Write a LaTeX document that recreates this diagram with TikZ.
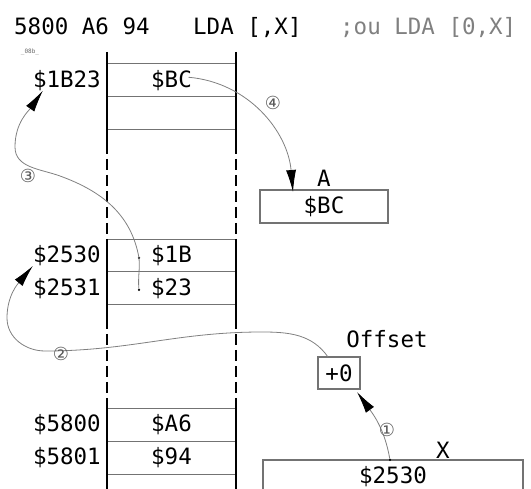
\documentclass[tikz,border=0pt]{standalone}
\usepackage{fontspec}
\setmainfont{DejaVu Sans Mono}
\newfontfamily\numfont{DejaVu Sans}
\usetikzlibrary{positioning,arrows.meta,calc}
\tikzset{
cell/.style={
draw=black!55,
line width=1.2pt,
minimum width=129pt,
minimum height=32.75pt,
inner sep=0pt,
outer sep=0pt,
font=\fontsize{22.5}{24}\selectfont
},
addr/.style={
inner sep=0pt,
font=\fontsize{22.5}{24}\selectfont
},
reg/.style={
draw=black!55,
line width=1.2pt,
minimum height=33pt,
inner sep=0pt,
outer sep=0pt,
font=\fontsize{22.5}{24}\selectfont
},
col/.style={
line width=1.6pt
},
ptr/.style={
draw=black!50,
line width=0.8pt,
-{Latex[length=22pt,width=10pt,color=black]}
},
num/.style={
inner sep=0pt,
text=black!65,
font=\numfont\fontsize{18}{18}\selectfont
},
dot/.style={
circle,
fill=black,
inner sep=0pt,
minimum size=2.5pt
}
}

\begin{document}
\begin{tikzpicture}[x=1pt,y=1pt,node distance=0pt]
\useasboundingbox (0,0) rectangle (531,489);

\node[addr,anchor=base west](h1) at (14,454){5800 A6 94};
\node[addr,anchor=base west](h2) at (193,454){LDA [,X]};
\node[addr,anchor=base west,text=black!50](h3) at (340,454){;ou LDA [0,X]};
\node[inner sep=0pt,text=black!60,font=\fontsize{6}{6}\selectfont](tag) at (30,437){\_08b\_};

\node[cell](c1) at (171.5,408.75){\$BC};
\node[cell,below=of c1](c2){};
\node[cell](c3) at (171.5,233.5){\$1B};
\node[cell,below=of c3](c4){\$23};
\node[cell](c5) at (171.5,64){\$A6};
\node[cell,below=of c5](c6){\$94};

\foreach \c/\t in {c1/1B23,c3/2530,c4/2531,c5/5800,c6/5801}
\node[addr,left=6pt of \c](a\c){\$\t};

\foreach \x in {107,236}{
\draw[col](\x,437)--(\x,346);
\draw[col,dash pattern=on 11pt off 5pt](\x,346)--(\x,250);
\draw[col](\x,250)--(\x,171);
\draw[col,dash pattern=on 11pt off 5pt](\x,171)--(\x,91);
\draw[col](\x,91)--(\x,0);
}

\node[reg,minimum width=128pt,label={[addr,label distance=3pt]above:A}](ra) at (324,282.5){\$BC};
\node[reg,minimum width=42pt,minimum height=32pt](off) at (339,116){+0};
\node[addr](offl) at (387,150){Offset};
\node[reg,minimum width=260pt](rx) at (393,12.5){\$2530};
\node[addr](xl) at (443,39){X};

\node[dot](d3) at (139,231){};
\node[dot](d4) at (139,199){};
\node[dot](d1) at ([xshift=-3pt]rx.north){};

\coordinate(m2a) at (262,157);
\coordinate(m2b) at (45,138);
\coordinate(w2) at (7,171);
\coordinate(m3) at (60,313);
\coordinate(w3) at (15,342);

\draw[ptr](d1) to[out=100,in=-54] ([xshift=-3pt,yshift=-3pt]off.south east);
\draw[ptr]([xshift=-11pt]off.north) to[out=125,in=0] (m2a) to[out=180,in=0] (m2b) to[out=180,in=-90] (w2) to[out=90,in=230] (ac3.south west);
\draw[ptr](d4) to[out=95,in=-85] (d3.center) to[out=100,in=-20] (m3) to[out=160,in=-90] (w3) to[out=90,in=235] ([xshift=10pt]ac1.south west);
\draw[ptr]([xshift=17pt,yshift=3pt]c1.center) to[out=-5,in=95] ([xshift=-31pt,yshift=-2pt]ra.north);

\node[num](n1) at (387,59){①};
\node[num](n2) at (61,135){②};
\node[num](n3) at (28,313){③};
\node[num](n4) at (273,386){④};
\end{tikzpicture}
\end{document}
